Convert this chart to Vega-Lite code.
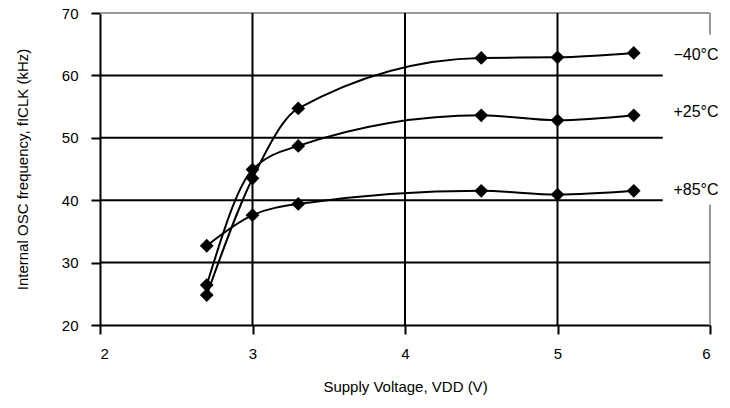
{
  "$schema": "https://vega.github.io/schema/vega-lite/v6.json",
  "width": 610,
  "height": 312,
  "autosize": "none",
  "padding": {"left": 100, "top": 13, "right": 20, "bottom": 83},
  "config": {
    "view": {"stroke": null},
    "font": "Liberation Sans",
    "axis": {
      "labelFont": "Liberation Sans",
      "titleFont": "Liberation Sans",
      "labelFontSize": 15,
      "titleFontSize": 15,
      "labelColor": "black",
      "titleColor": "black",
      "titleFontWeight": "normal",
      "domainColor": "black",
      "tickColor": "black",
      "domainWidth": 2,
      "tickWidth": 2,
      "tickSize": 9,
      "grid": false
    }
  },
  "datasets": {
    "series": [
      {"temp": "−40°C", "v": 2.7, "f": 24.8},
      {"temp": "−40°C", "v": 3.0, "f": 43.5},
      {"temp": "−40°C", "v": 3.3, "f": 54.7},
      {"temp": "−40°C", "v": 4.5, "f": 62.8},
      {"temp": "−40°C", "v": 5.0, "f": 62.9},
      {"temp": "−40°C", "v": 5.5, "f": 63.6},
      {"temp": "+25°C", "v": 2.7, "f": 26.4},
      {"temp": "+25°C", "v": 3.0, "f": 44.9},
      {"temp": "+25°C", "v": 3.3, "f": 48.7},
      {"temp": "+25°C", "v": 4.5, "f": 53.6},
      {"temp": "+25°C", "v": 5.0, "f": 52.8},
      {"temp": "+25°C", "v": 5.5, "f": 53.6},
      {"temp": "+85°C", "v": 2.7, "f": 32.7},
      {"temp": "+85°C", "v": 3.0, "f": 37.6},
      {"temp": "+85°C", "v": 3.3, "f": 39.4},
      {"temp": "+85°C", "v": 4.5, "f": 41.5},
      {"temp": "+85°C", "v": 5.0, "f": 40.9},
      {"temp": "+85°C", "v": 5.5, "f": 41.5}
    ],
    "labels": [
      {"temp": "−40°C", "v": 5.76, "f": 63.3},
      {"temp": "+25°C", "v": 5.76, "f": 54.1},
      {"temp": "+85°C", "v": 5.76, "f": 41.6}
    ],
    "hgrid": [
      {"f": 30, "v1": 2, "v2": 6},
      {"f": 40, "v1": 2, "v2": 5.69},
      {"f": 50, "v1": 2, "v2": 5.69},
      {"f": 60, "v1": 2, "v2": 5.69}
    ],
    "vgrid": [
      {"v": 3, "f1": 20, "f2": 70},
      {"v": 4, "f1": 20, "f2": 70},
      {"v": 5, "f1": 20, "f2": 70}
    ],
    "border": [
      {"v1": 2, "v2": 6, "f1": 70, "f2": 70},
      {"v1": 6, "v2": 6, "f1": 66.5, "f2": 70},
      {"v1": 6, "v2": 6, "f1": 20, "f2": 39.3}
    ]
  },
  "layer": [
    {
      "data": {"name": "border"},
      "mark": {"type": "rule", "color": "#999999", "strokeWidth": 2},
      "encoding": {
        "x": {
          "field": "v1", "type": "quantitative", "scale": {"domain": [2, 6], "nice": false},
          "axis": {"values": [2, 3, 4, 5, 6], "format": "d", "title": "Supply Voltage, VDD (V)", "labelPadding": 12, "titleY": 61, "titleBaseline": "middle"}
        },
        "x2": {"field": "v2"},
        "y": {
          "field": "f1", "type": "quantitative", "scale": {"domain": [20, 70], "nice": false},
          "axis": {"values": [20, 30, 40, 50, 60, 70], "format": "d", "title": "Internal OSC frequency, fICLK (kHz)", "labelPadding": 13, "titleX": -78, "titleBaseline": "middle"}
        },
        "y2": {"field": "f2"}
      }
    },
    {
      "data": {"name": "hgrid"},
      "mark": {"type": "rule", "color": "black", "strokeWidth": 2},
      "encoding": {
        "x": {"field": "v1", "type": "quantitative"},
        "x2": {"field": "v2"},
        "y": {"field": "f", "type": "quantitative"}
      }
    },
    {
      "data": {"name": "vgrid"},
      "mark": {"type": "rule", "color": "black", "strokeWidth": 2},
      "encoding": {
        "x": {"field": "v", "type": "quantitative"},
        "y": {"field": "f1", "type": "quantitative"},
        "y2": {"field": "f2"}
      }
    },
    {
      "data": {"name": "series"},
      "mark": {"type": "line", "color": "black", "strokeWidth": 2, "interpolate": "monotone"},
      "encoding": {
        "x": {"field": "v", "type": "quantitative"},
        "y": {"field": "f", "type": "quantitative"},
        "detail": {"field": "temp"}
      }
    },
    {
      "data": {"name": "series"},
      "mark": {"type": "point", "shape": "diamond", "filled": true, "color": "black", "size": 190, "opacity": 1},
      "encoding": {
        "x": {"field": "v", "type": "quantitative"},
        "y": {"field": "f", "type": "quantitative"}
      }
    },
    {
      "data": {"name": "labels"},
      "mark": {"type": "text", "align": "left", "baseline": "middle", "fontSize": 16, "font": "Liberation Sans", "color": "black"},
      "encoding": {
        "x": {"field": "v", "type": "quantitative"},
        "y": {"field": "f", "type": "quantitative"},
        "text": {"field": "temp"}
      }
    }
  ]
}
